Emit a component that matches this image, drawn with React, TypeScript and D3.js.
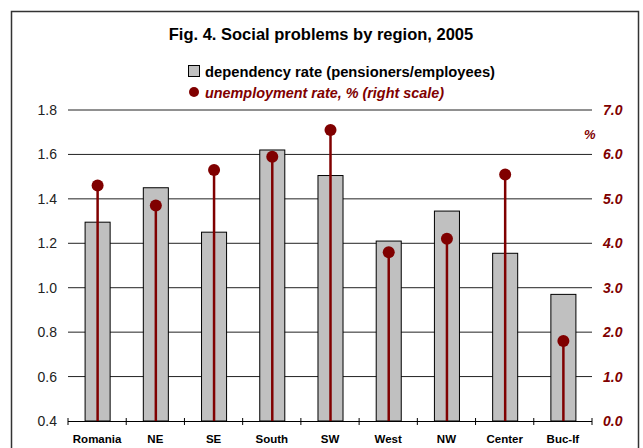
import React from 'react';
import * as d3 from 'd3';

const regions = ['Romania', 'NE', 'SE', 'South', 'SW', 'West', 'NW', 'Center', 'Buc-If'];
const dependencyRate = [1.295, 1.45, 1.25, 1.62, 1.505, 1.21, 1.345, 1.155, 0.97];
const unemploymentRate = [5.3, 4.85, 5.65, 5.95, 6.55, 3.8, 4.1, 5.55, 1.8];
const leftTicks = [0.4, 0.6, 0.8, 1.0, 1.2, 1.4, 1.6, 1.8];
const rightTicks = [0, 1, 2, 3, 4, 5, 6, 7];

const RED = '#800000';
const FONT = 'Liberation Sans, Arial, sans-serif';

const App: React.FC = () => {
  const W = 643;
  const H = 448;
  const plot = { left: 68, right: 592, top: 110, bottom: 421 };

  const x = d3.scaleBand<string>()
    .domain(regions)
    .range([plot.left, plot.right])
    .paddingInner(0.57)
    .paddingOuter(0.285);

  const yLeft = d3.scaleLinear().domain([0.4, 1.8]).range([plot.bottom, plot.top]);
  const yRight = d3.scaleLinear().domain([0, 7]).range([plot.bottom, plot.top]);

  const step = (plot.right - plot.left) / regions.length;
  const boundaries = d3.range(regions.length + 1).map(i => plot.left + i * step);

  return (
    <div style={{ position: 'absolute', left: 0, top: 0 }}>
      <svg width={W} height={H} style={{ display: 'block', fontFamily: FONT }}>
        <rect x={0} y={0} width={W} height={H} fill="#fff" />
        {/* frame */}
        <rect x={11.5} y={11.5} width={627} height={480} fill="none" stroke="#333" strokeWidth={1.5} />

        {/* title */}
        <text x={321} y={40} textAnchor="middle" fontSize={16.5} fontWeight="bold">
          Fig. 4. Social problems by region, 2005
        </text>

        {/* legend */}
        <rect x={188.5} y={65.5} width={11} height={11} fill="#c0c0c0" stroke="#000" strokeWidth={1} />
        <text x={205} y={76.5} fontSize={14.5} fontWeight="bold" textLength={290} lengthAdjust="spacingAndGlyphs">
          dependency rate (pensioners/employees)
        </text>
        <circle cx={194} cy={92} r={5} fill={RED} />
        <text x={205} y={97.5} fontSize={14.5} fontWeight="bold" fontStyle="italic" fill={RED} textLength={239} lengthAdjust="spacingAndGlyphs">
          unemployment rate, % (right scale)
        </text>

        {/* gridlines */}
        {leftTicks.slice(1).map(t => (
          <line key={t} x1={plot.left} x2={plot.right} y1={yLeft(t)} y2={yLeft(t)} stroke="#222" strokeWidth={1} />
        ))}

        {/* bars */}
        {regions.map((r, i) => (
          <rect
            key={r}
            x={(x(r) || 0) + 0.5}
            y={yLeft(dependencyRate[i])}
            width={x.bandwidth()}
            height={plot.bottom - yLeft(dependencyRate[i])}
            fill="#c0c0c0"
            stroke="#000"
            strokeWidth={1}
          />
        ))}

        {/* unemployment stems */}
        {regions.map((r, i) => {
          const cx = (x(r) || 0) + x.bandwidth() / 2 + 0.5;
          return (
            <g key={r}>
              <line x1={cx} x2={cx} y1={plot.bottom} y2={yRight(unemploymentRate[i])} stroke={RED} strokeWidth={2.5} />
              <circle cx={cx} cy={yRight(unemploymentRate[i])} r={6} fill={RED} />
            </g>
          );
        })}

        {/* x axis */}
        <line x1={plot.left} x2={plot.right} y1={plot.bottom + 0.5} y2={plot.bottom + 0.5} stroke="#000" strokeWidth={1} />
        {boundaries.map((b, i) => (
          <line key={i} x1={b} x2={b} y1={plot.bottom - 3} y2={plot.bottom + 4} stroke="#000" strokeWidth={1} />
        ))}
        {regions.map(r => (
          <text key={r} x={(x(r) || 0) + x.bandwidth() / 2} y={443} textAnchor="middle" fontSize={11.5} fontWeight="bold">
            {r}
          </text>
        ))}

        {/* left axis labels */}
        {leftTicks.map(t => (
          <text key={t} x={57} y={yLeft(t) + 5} textAnchor="end" fontSize={14} fill="#222">
            {t.toFixed(1)}
          </text>
        ))}

        {/* right axis labels */}
        {rightTicks.map(t => (
          <text key={t} x={603} y={yRight(t) + 5} fontSize={14} fontWeight="bold" fontStyle="italic" fill={RED}>
            {t.toFixed(1)}
          </text>
        ))}
        <text x={584} y={139} fontSize={13} fontWeight="bold" fontStyle="italic" fill={RED}>%</text>
      </svg>
    </div>
  );
};

export default App;
